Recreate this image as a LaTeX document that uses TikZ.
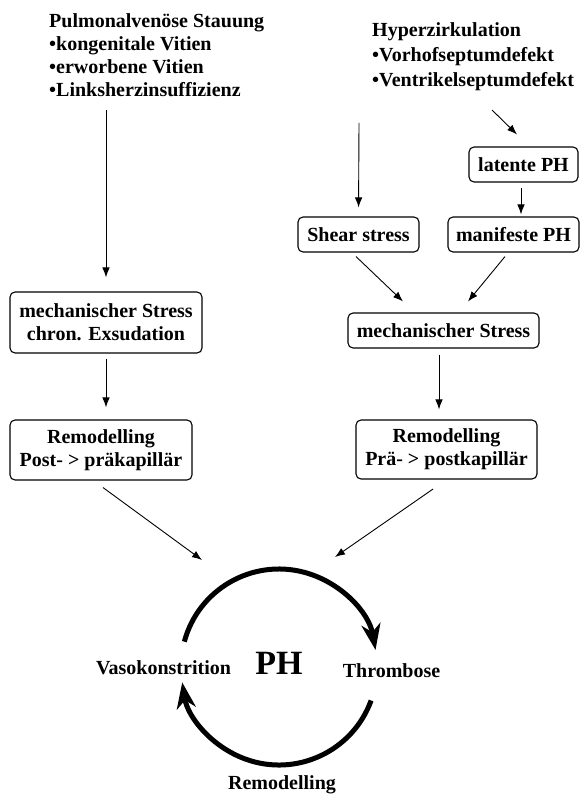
\documentclass[tikz,border=0pt]{standalone}
\usepackage{fontspec}
\setmainfont{Liberation Serif}
\usetikzlibrary{arrows.meta}
\begin{document}
\begin{tikzpicture}[x=1pt,y=-1pt,
  txt/.style={font=\bfseries\fontsize{20}{23.3}\selectfont, inner sep=0pt},
  box/.style={txt, draw, rounded corners=5pt, line width=1.1pt, align=center},
  conn/.style={line width=0.9pt, -{Latex[length=10pt,width=7.5pt]}},
  cyc/.style={line width=5pt, -{Stealth[length=26pt,width=19pt,inset=8pt]}}]
\useasboundingbox (0,0) rectangle (580,794);

% title blocks
\node[txt, align=left, anchor=base west] (pulm) at (49,97)
  {Pulmonalvenöse Stauung\\•kongenitale Vitien\\•erworbene Vitien\\•Linksherzinsuffizienz};
\node[txt, align=left, anchor=base west, font=\bfseries\fontsize{20}{25}\selectfont] (hyper) at (372,87)
  {Hyperzirkulation\\•Vorhofseptumdefekt\\•Ventrikelseptumdefekt};

% boxes
\node[box, minimum width=192pt, minimum height=61pt] (ms1) at (106,322.5) {mechanischer Stress\\chron. Exsudation};
\node[box, minimum width=182pt, minimum height=60pt] (rm1) at (101,450) {Remodelling\\Post- > präkapillär};
\node[box, minimum width=109pt, minimum height=35pt] (lat) at (523.5,164.5) {latente PH};
\node[box, minimum width=121pt, minimum height=35pt] (shear) at (358.5,234.5) {Shear stress};
\node[box, minimum width=131pt, minimum height=35pt] (manif) at (513.5,234.5) {manifeste PH};
\node[box, minimum width=191pt, minimum height=35pt] (ms2) at (443.5,330.5) {mechanischer Stress};
\node[box, minimum width=181pt, minimum height=59pt] (rm2) at (446.5,449.5) {Remodelling\\Prä- > postkapillär};

% free ends
\coordinate (p1) at (106,110);
\coordinate (h1) at (359,123);
\coordinate (h2) at (492,110);
\coordinate (c1) at (202,560);
\coordinate (c2) at (335,557);

% connectors
\draw[conn, shorten >=14pt] (p1) -- (ms1.north);
\draw[conn, shorten <=5pt, shorten >=12pt] (ms1.south) -- (ms1.south |- rm1.north);
\draw[conn, shorten >=9pt] (h1) -- (shear.north);
\draw[conn] (h2) -- ([xshift=-6.5pt,yshift=12pt]lat.north);
\draw[conn, shorten <=5pt, shorten >=2pt] ([xshift=-2.5pt]lat.south) -- ([xshift=-2.5pt]lat.south |- manif.north);
\draw[conn] ([xshift=-2.5pt,yshift=-4pt]shear.south) -- ([xshift=-40.5pt,yshift=11pt]ms2.north);
\draw[conn] ([xshift=-8.5pt,yshift=-4pt]manif.south) -- ([xshift=24.5pt,yshift=11pt]ms2.north);
\draw[conn, shorten <=6pt, shorten >=10pt] ([xshift=-4.5pt]ms2.south) -- ([xshift=-4.5pt]ms2.south |- rm2.north);
\draw[conn] ([xshift=2pt,yshift=-7pt]rm1.south) -- (c1);
\draw[conn] ([xshift=-13.5pt,yshift=-9.5pt]rm2.south) -- (c2);

% cycle
\coordinate (cc) at (279,667);
\draw[cyc] ([shift={(165:98pt)}]cc) arc[start angle=165, end angle=10, radius=98pt];
\draw[cyc] ([shift={(-20:98pt)}]cc) arc[start angle=-20, end angle=-171, radius=98pt];

\node[txt, anchor=base] (vaso) at (163.5,674) {Vasokonstrition};
\node[txt, anchor=base, font=\bfseries\fontsize{34}{36}\selectfont] (ph) at (279,674) {PH};
\node[txt, anchor=base] (thromb) at (391.5,677) {Thrombose};
\node[txt, anchor=base] (remod) at (282,789) {Remodelling};
\end{tikzpicture}
\end{document}
